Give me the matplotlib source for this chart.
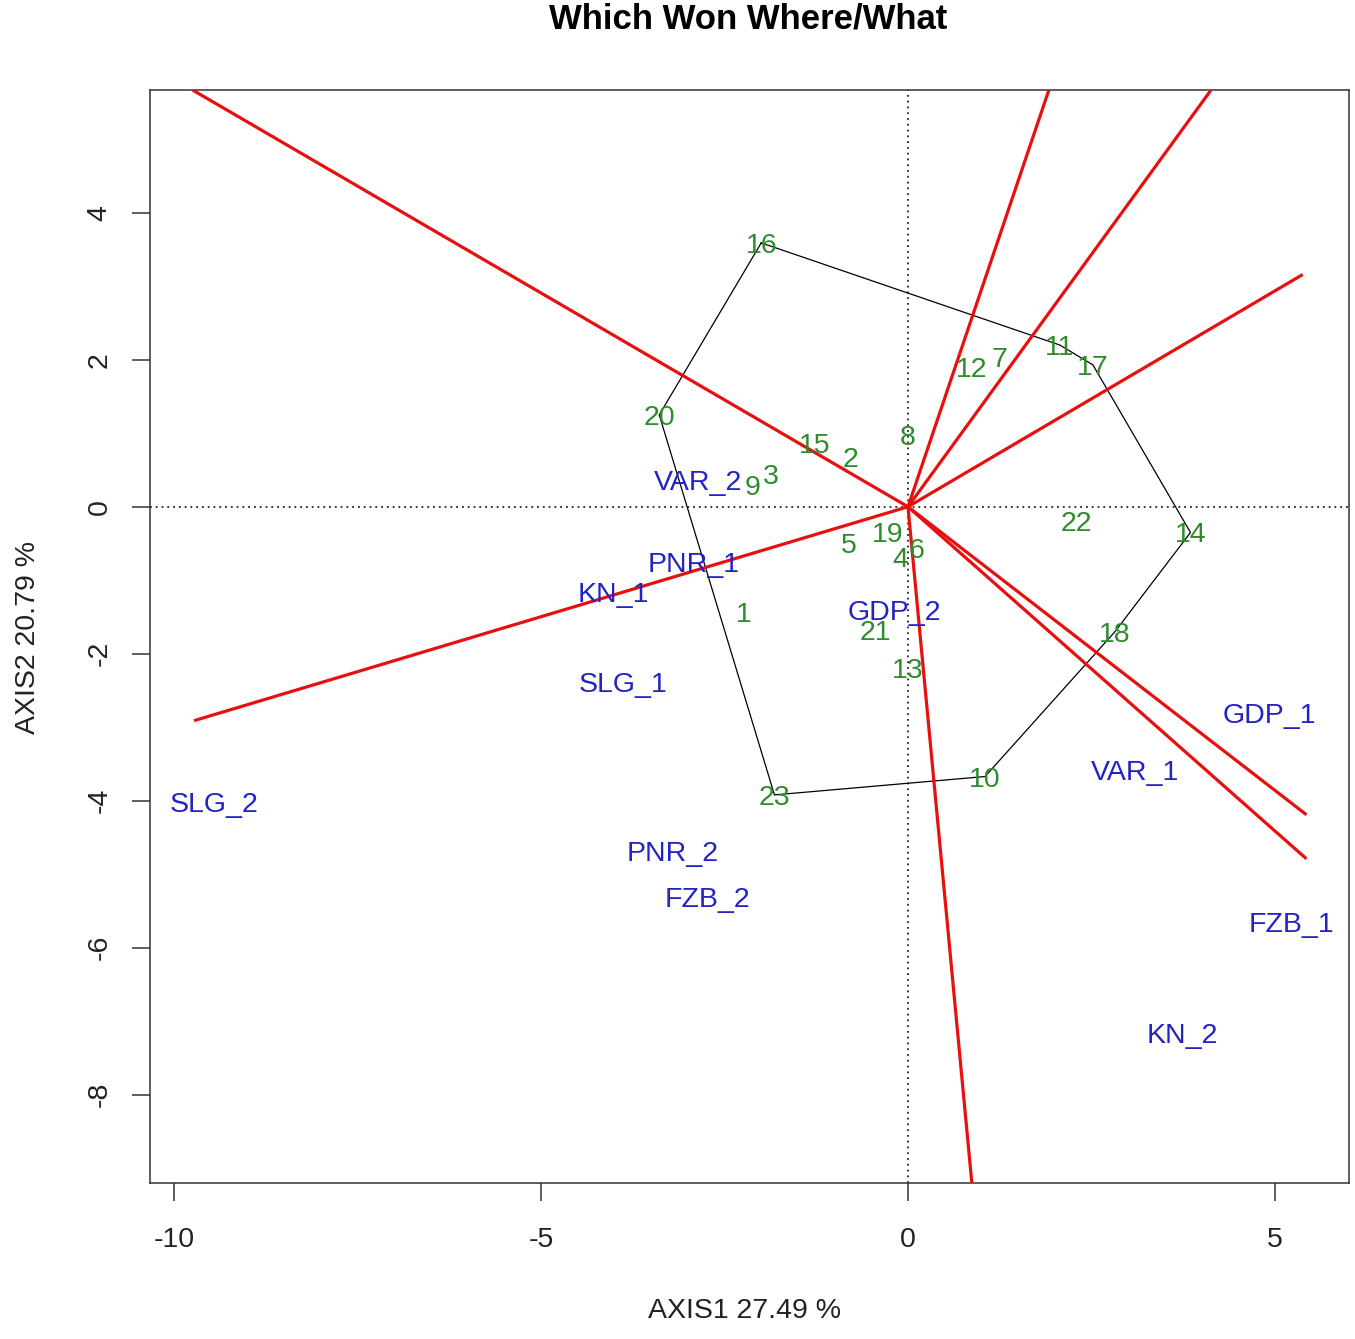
import matplotlib
matplotlib.use("Agg")
import matplotlib.pyplot as plt

plt.rcParams['font.family'] = ['Liberation Sans', 'DejaVu Sans']
plt.rcParams['axes.unicode_minus'] = False

# Genotype scores (green labels)
gen_labels = ["1", "2", "3", "4", "5", "6", "7", "8", "9", "10", "11", "12",
              "13", "14", "15", "16", "17", "18", "19", "20", "21", "22", "23"]
gen_x = [-2.24, -0.78, -1.87, -0.10, -0.80, 0.12, 1.25, 0.00, -2.12, 1.05, 2.07, 0.87,
         0.00, 3.85, -1.27, -2.00, 2.52, 2.82, -0.28, -3.39, -0.45, 2.30, -1.82]
gen_y = [-1.43, 0.68, 0.44, -0.69, -0.49, -0.56, 2.04, 0.98, 0.30, -3.67, 2.20, 1.90,
         -2.19, -0.35, 0.87, 3.59, 1.93, -1.70, -0.34, 1.25, -1.67, -0.20, -3.92]

# Environment scores (blue labels)
env_labels = ["GDP_1", "VAR_1", "FZB_1", "KN_2", "SLG_2", "PNR_2", "FZB_2",
              "SLG_1", "KN_1", "PNR_1", "VAR_2", "GDP_2"]
env_x = [4.92, 3.09, 5.22, 3.74, -9.46, -3.21, -2.73, -3.89, -4.02, -2.92, -2.86, -0.18]
env_y = [-2.80, -3.58, -5.65, -7.16, -4.01, -4.69, -5.31, -2.38, -1.16, -0.75, 0.37, -1.40]

# Convex hull vertex order (genotype labels)
hull_order = ["16", "11", "17", "14", "18", "10", "23", "20"]

# Sector ray end points (from origin)
ray_x = [-9.75, -9.73, 1.92, 4.13, 5.38, 5.43, 5.43, 0.87]
ray_y = [5.67, -2.91, 5.67, 5.67, 3.16, -4.19, -4.79, -9.20]

title = "Which Won Where/What"
xlabel = "AXIS1 27.49 %"
ylabel = "AXIS2 20.79 %"
xticks = [-10, -5, 0, 5]
yticks = [-8, -6, -4, -2, 0, 2, 4]

W, H = 1355, 1339
fig = plt.figure(figsize=(W / 100, H / 100), dpi=100)
ax = fig.add_axes([150 / W, 1 - 1183 / H, 1199 / W, 1093 / H])
ax.set_xlim(-10.33, 6.01)
ax.set_ylim(-9.20, 5.67)

# zero lines
ax.axhline(0, color='#222222', lw=1.3, ls=(0, (1, 2.2)), zorder=1)
ax.axvline(0, color='#222222', lw=1.3, ls=(0, (1, 2.2)), zorder=1)

# hull
idx = [gen_labels.index(l) for l in hull_order]
hx = [gen_x[i] for i in idx] + [gen_x[idx[0]]]
hy = [gen_y[i] for i in idx] + [gen_y[idx[0]]]
ax.plot(hx, hy, color='black', lw=0.9, zorder=2)

# rays
for rx, ry in zip(ray_x, ray_y):
    ax.plot([0, rx], [0, ry], color='#e8100f', lw=2.3, zorder=3, solid_capstyle='butt')

fs = 20.5
for l, x, y in zip(gen_labels, gen_x, gen_y):
    ax.text(x, y, l, color='#2e8b2e', fontsize=fs, ha='center', va='center_baseline', zorder=4)
for l, x, y in zip(env_labels, env_x, env_y):
    ax.text(x, y, l, color='#2323c4', fontsize=fs, ha='center', va='center_baseline', zorder=4)

ax.set_xticks(xticks)
ax.set_yticks(yticks)
ax.set_xticklabels([str(t) for t in xticks])
ax.set_yticklabels([str(t) for t in yticks], rotation=90, va='center')
ax.tick_params(axis='both', length=13, width=1.1, color='#333333', labelsize=fs,
               labelcolor='#222222')
ax.tick_params(axis='x', pad=19)
ax.tick_params(axis='y', pad=14)
for s in ax.spines.values():
    s.set_color('#333333')
    s.set_linewidth(1.1)

fig.text(748 / W, 1 - 19 / H, title, fontsize=25, fontweight='bold', ha='center', va='center')
fig.text(745 / W, 1 - 1311 / H, xlabel, fontsize=fs, ha='center', va='center', color='#222222')
fig.text(28 / W, 1 - 637 / H, ylabel, fontsize=fs, ha='center', va='center', rotation=90, color='#222222')

fig.savefig("out.png", dpi=100)
